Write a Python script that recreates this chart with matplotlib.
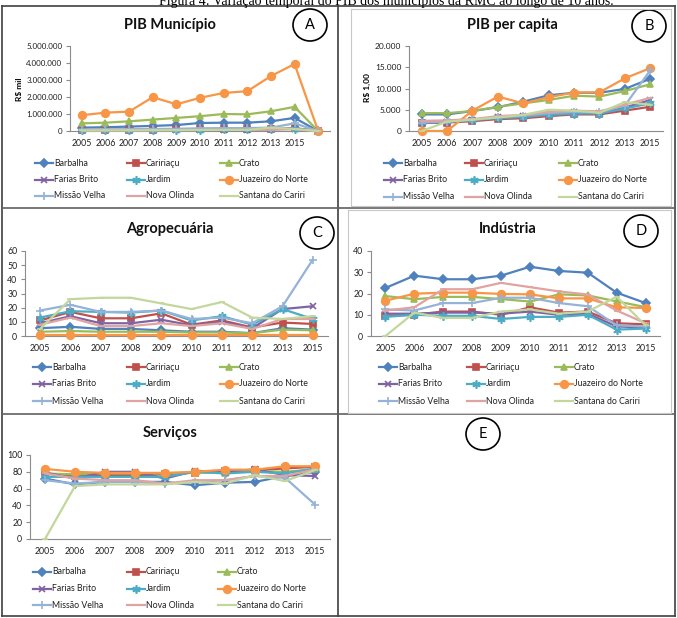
import numpy as np
import matplotlib
matplotlib.use('Agg')
import matplotlib.pyplot as plt
from matplotlib.lines import Line2D
from matplotlib.patches import Ellipse
from matplotlib.ticker import FuncFormatter

plt.rcParams['font.family'] = ['Lato', 'DejaVu Sans']

# dados
anos = ['2005', '2006', '2007', '2008', '2009', '2010', '2011', '2012', '2013', '2015']
anos_pib = anos + ['']
municipios = ['Barbalha', 'Caririaçu', 'Crato', 'Farias Brito', 'Jardim',
              'Juazeiro do Norte', 'Missão Velha', 'Nova Olinda', 'Santana do Cariri']

# PIB município (R$ mil)
pib_barbalha = [200000, 220000, 260000, 300000, 350000, 470000, 490000, 490000, 570000, 770000, 0]
pib_caririacu = [60000, 65000, 70000, 85000, 95000, 110000, 120000, 125000, 140000, 170000, 0]
pib_crato = [450000, 490000, 570000, 670000, 770000, 870000, 1000000, 980000, 1160000, 1420000, 0]
pib_farias = [40000, 45000, 50000, 60000, 65000, 75000, 85000, 85000, 100000, 130000, 0]
pib_jardim = [45000, 50000, 55000, 65000, 70000, 85000, 95000, 95000, 110000, 140000, 0]
pib_juazeiro = [930000, 1080000, 1140000, 1990000, 1570000, 1950000, 2240000, 2340000, 3230000, 3940000, 0]
pib_missao = [80000, 90000, 100000, 120000, 130000, 160000, 170000, 170000, 200000, 450000, 0]
pib_olinda = [30000, 35000, 38000, 45000, 50000, 60000, 65000, 65000, 80000, 100000, 0]
pib_santana = [30000, 35000, 38000, 45000, 50000, 60000, 65000, 65000, 200000, 120000, 0]

# PIB per capita (R$ 1,00)
pc_barbalha = [3900, 3900, 4700, 5600, 6900, 8400, 9000, 9000, 9900, 12300]
pc_caririacu = [1900, 2000, 2300, 2800, 3000, 3500, 3900, 3900, 4800, 5700]
pc_crato = [4200, 4200, 4700, 5700, 6500, 7300, 8300, 8100, 9400, 11000]
pc_farias = [1800, 2200, 2500, 3300, 3500, 4000, 4500, 4200, 5500, 7300]
pc_jardim = [2200, 2300, 2600, 3000, 3300, 3800, 4100, 4100, 5300, 6500]
pc_juazeiro = [0, 0, 4800, 8100, 6500, 7950, 9050, 9100, 12400, 14800]
pc_missao = [2000, 2200, 2600, 3200, 3600, 4200, 4500, 4400, 6000, 14300]
pc_olinda = [2400, 2500, 2800, 3500, 3800, 4500, 4800, 4600, 6200, 7800]
pc_santana = [0, 2200, 2700, 3200, 3800, 5000, 4800, 4300, 6800, 6200]

# Agropecuária (%)
agro_barbalha = [5.5, 6.5, 5, 5, 4, 3, 3, 2, 5.5, 4.5]
agro_caririacu = [11, 17, 12.5, 12.5, 16, 8, 11, 6, 9.5, 8.5]
agro_crato = [3, 3.5, 3, 3, 3, 2.5, 2.5, 2, 4.5, 4]
agro_farias = [9, 14, 9, 9, 11.5, 7.5, 10, 5.5, 19, 21]
agro_jardim = [13, 17.5, 17, 16.5, 18, 11, 14, 8, 19, 12]
agro_juazeiro = [0.5, 0.5, 0.5, 0.5, 0.5, 0.5, 0.5, 0.5, 0.5, 0.5]
agro_missao = [18, 22, 17, 17, 18, 12, 13, 9, 21, 54]
agro_olinda = [8, 13, 7, 7, 9, 7, 9, 5, 12, 12]
agro_santana = [5, 26, 27, 27, 23, 19, 24, 13, 12, 14]

# Indústria (%)
ind_barbalha = [22.6, 28.4, 26.7, 26.7, 28.4, 32.6, 30.6, 29.8, 20.4, 15.5]
ind_caririacu = [9.5, 10, 11.5, 11.5, 10, 13.5, 11, 11.5, 6, 5.5]
ind_crato = [18.8, 17.3, 18.4, 18.4, 17.4, 16.2, 19.6, 19.1, 16.3, 13.6]
ind_farias = [10.5, 10.5, 11, 11, 10.5, 11.5, 10, 10.5, 4.5, 4]
ind_jardim = [9, 10, 9.5, 9.5, 8, 9, 9, 10, 3, 3.5]
ind_juazeiro = [16.6, 19.9, 20.4, 20.4, 19.8, 19.6, 17.7, 17.7, 13.5, 13.2]
ind_missao = [12.5, 12, 15.5, 15.5, 18, 18, 15.5, 14, 5, 4.5]
ind_olinda = [12, 13.5, 22, 22, 25, 23, 21, 19.5, 12, 6]
ind_santana = [0, 11, 8.5, 8.5, 11.5, 12.5, 10.5, 11.5, 18.5, 5]

# Serviços (%)
serv_barbalha = [72, 65, 68, 68, 68, 64, 67, 68, 75, 80]
serv_caririacu = [78, 75, 76, 76, 77, 79, 81, 82, 84, 86]
serv_crato = [78, 77, 78, 78, 78, 79, 79, 81, 80, 83]
serv_farias = [79, 72, 80, 80, 72, 81, 80, 83, 76, 75]
serv_jardim = [74, 74, 74, 74, 74, 80, 78, 80, 78, 84]
serv_juazeiro = [83.5, 80, 78.7, 78.7, 78.7, 80, 82.5, 82.5, 86.6, 86.6]
serv_missao = [70, 66, 68, 68, 66, 68, 70, 75, 73, 41]
serv_olinda = [78, 72, 70, 70, 66, 70, 70, 75, 75, 83]
serv_santana = [0, 63, 65, 65, 65, 68, 66, 76, 69, 82]

# estilos das séries
cores = ['#4F81BD', '#C0504D', '#9BBB59', '#8064A2', '#4BACC6',
         '#F79646', '#95B3D7', '#E0A3A1', '#C3D69B']
marcadores = ['D', 's', '^', 'x', (6, 2, 0), 'o', '+', '_', '_']
tamanhos = [4, 4, 5, 5, 6, 5.5, 6, 5, 5]

W, H = 677, 618
fig = plt.figure(figsize=(W / 100, H / 100), dpi=100)


def fx(x):
    return x / W


def fy(y):
    return 1 - y / H


def caixa(x0, y0, x1, y1):
    return [fx(x0), fy(y1), (x1 - x0) / W, (y1 - y0) / H]


def linha(x0, y0, x1, y1, cor='#404040', lw=1.2):
    fig.add_artist(Line2D([fx(x0), fx(x1)], [fy(y0), fy(y1)], color=cor, lw=lw,
                          transform=fig.transFigure))


def milhar(v, pos):
    return f'{int(v):,}'.replace(',', '.')


def painel(rect, series, cats, ymax, passo, fmt=None, fs=6.3):
    ax = fig.add_axes(rect)
    x = np.arange(len(cats))
    for i, s in enumerate(series):
        ax.plot(x, s, color=cores[i], marker=marcadores[i], ms=tamanhos[i],
                lw=1.6, mew=1.2, mec=cores[i], zorder=3 + i, clip_on=False)
    ax.set_xlim(-0.5, len(cats) - 0.5)
    ax.set_ylim(0, ymax)
    ax.set_xticks(x)
    ax.set_xticklabels(cats)
    ax.set_yticks(np.arange(0, ymax + passo / 2, passo))
    if fmt:
        ax.yaxis.set_major_formatter(FuncFormatter(fmt))
    for lado in ['top', 'right']:
        ax.spines[lado].set_visible(False)
    for lado in ['left', 'bottom']:
        ax.spines[lado].set_color('#8c8c8c')
        ax.spines[lado].set_linewidth(0.8)
    ax.tick_params(axis='both', labelsize=fs, colors='#8c8c8c', labelcolor='#202020',
                   length=3, width=0.8, pad=2.5)
    ax.tick_params(axis='x', labelsize=6.3, length=0, pad=6)
    ax.patch.set_alpha(0)
    return ax


def legenda(xs, ys):
    for i, nome in enumerate(municipios):
        x0 = xs[i % 3]
        y0 = ys[i // 3]
        fig.add_artist(Line2D([fx(x0), fx(x0 + 18)], [fy(y0), fy(y0)], color=cores[i], lw=1.6,
                              transform=fig.transFigure))
        fig.add_artist(Line2D([fx(x0 + 9)], [fy(y0)], color=cores[i], marker=marcadores[i],
                              ms=tamanhos[i], mew=1.2, mec=cores[i], lw=0,
                              transform=fig.transFigure))
        fig.text(fx(x0 + 19), fy(y0), nome, fontsize=6.3, color='#202020',
                 va='center', ha='left')


def titulo(x, y, texto):
    fig.text(fx(x), fy(y), texto, fontsize=10.5, fontweight='bold', ha='center',
             va='center', color='#111111')


def circulo(x, y, letra):
    fig.add_artist(Ellipse((fx(x), fy(y)), 34 / W, 32 / H, fill=False, lw=1.2,
                           ec='black', transform=fig.transFigure))
    fig.text(fx(x), fy(y), letra, fontsize=10.5, ha='center', va='center', color='black')


# legenda da figura (cortada no topo)
fig.text(fx(386), fy(4.5), 'Figura 4: Variação temporal do PIB dos municípios da RMC ao longo de 10 anos.',
         family='Liberation Serif', fontsize=10, ha='center', va='baseline')

# bordas da tabela
linha(2, 6, 675, 6)
linha(2, 616, 675, 616)
linha(2, 6, 2, 616)
linha(675, 6, 675, 616)
linha(338, 6, 338, 616)
linha(2, 208, 675, 208, cor='#606060')
linha(2, 414, 675, 414, cor='#606060')
# molduras dos gráficos
for (a, b, c, d) in [(351, 9, 671, 206), (348, 210, 671, 413)]:
    linha(a, b, c, b, cor='#c8c8c8', lw=0.8)
    linha(a, d, c, d, cor='#c8c8c8', lw=0.8)
    linha(a, b, a, d, cor='#c8c8c8', lw=0.8)
    linha(c, b, c, d, cor='#c8c8c8', lw=0.8)

# A - PIB Município
axA = painel(caixa(70, 46, 330, 131),
             [pib_barbalha, pib_caririacu, pib_crato, pib_farias, pib_jardim,
              pib_juazeiro, pib_missao, pib_olinda, pib_santana],
             anos_pib, 5000000, 1000000, milhar, fs=5.8)
fig.text(fx(19), fy(89), 'R$ mil', fontsize=6, fontweight='bold', rotation=90,
         ha='center', va='center')
titulo(170, 25, 'PIB Município')
circulo(310, 25, 'A')
legenda([35, 127, 220], [163, 179.5, 196])

# B - PIB per capita
axB = painel(caixa(409, 46, 663, 131),
             [pc_barbalha, pc_caririacu, pc_crato, pc_farias, pc_jardim,
              pc_juazeiro, pc_missao, pc_olinda, pc_santana],
             anos, 20000, 5000, milhar, fs=6)
fig.text(fx(367), fy(88), 'R$ 1,00', fontsize=6, fontweight='bold', rotation=90,
         ha='center', va='center')
titulo(512, 25, 'PIB per capita')
circulo(649, 26, 'B')
legenda([384, 465, 559], [163, 180, 197])

# C - Agropecuária
axC = painel(caixa(25, 251, 328, 336),
             [agro_barbalha, agro_caririacu, agro_crato, agro_farias, agro_jardim,
              agro_juazeiro, agro_missao, agro_olinda, agro_santana],
             anos, 60, 10)
titulo(170, 229, 'Agropecuária')
circulo(317, 233, 'C')
legenda([33, 127, 220], [367, 384, 401])

# D - Indústria
axD = painel(caixa(371, 251, 660, 336),
             [ind_barbalha, ind_caririacu, ind_crato, ind_farias, ind_jardim,
              ind_juazeiro, ind_missao, ind_olinda, ind_santana],
             anos, 40, 10)
titulo(508, 229, 'Indústria')
circulo(641, 231, 'D')
legenda([379, 467, 555], [367, 384, 401])

# E - Serviços
axE = painel(caixa(30, 455, 330, 539),
             [serv_barbalha, serv_caririacu, serv_crato, serv_farias, serv_jardim,
              serv_juazeiro, serv_missao, serv_olinda, serv_santana],
             anos, 100, 20)
titulo(170, 433, 'Serviços')
circulo(483, 434, 'E')
legenda([33, 127, 218], [572, 588.5, 605])

fig.savefig('out.png', dpi=100)
